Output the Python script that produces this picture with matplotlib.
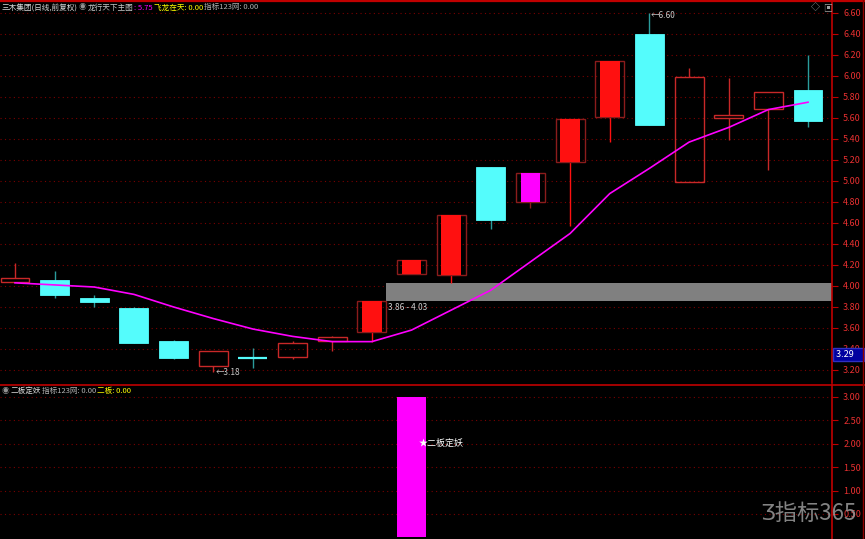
import numpy as np
import matplotlib
matplotlib.use("Agg")
import matplotlib.pyplot as plt
from matplotlib.patches import Rectangle
from matplotlib.transforms import blended_transform_factory

plt.rcParams['font.family'] = ['Noto Sans CJK SC', 'DejaVu Sans']

# ======================= data =======================
opens  = [4.04, 4.06, 3.89, 3.79, 3.48, 3.24, 3.31, 3.32, 3.48, 3.56, 4.11,
          4.10, 5.13, 4.80, 5.18, 5.61, 6.40, 4.99, 5.60, 5.69, 5.87]
closes = [4.08, 3.91, 3.85, 3.46, 3.31, 3.38, 3.31, 3.46, 3.51, 3.86, 4.25,
          4.68, 4.63, 5.08, 5.59, 6.14, 5.53, 5.99, 5.63, 5.85, 5.57]
highs  = [4.22, 4.14, 3.91, 3.80, 3.49, 3.38, 3.41, 3.48, 3.52, 3.86, 4.25,
          4.68, 5.13, 5.08, 5.59, 6.14, 6.60, 6.08, 5.98, 5.85, 6.20]
lows   = [4.04, 3.89, 3.80, 3.46, 3.30, 3.18, 3.22, 3.30, 3.38, 3.47, 4.11,
          4.03, 4.54, 4.74, 4.57, 5.37, 5.53, 4.99, 5.39, 5.10, 5.51]
# body style of each candle
styles = ['hollow', 'down', 'down', 'down', 'down', 'hollow', 'down', 'hollow',
          'hollow', 'solid', 'solid', 'solid', 'down', 'magenta', 'solid',
          'solid', 'down', 'hollow', 'hollow', 'hollow', 'down']
# main indicator line (龙行天下主图)
ma_line = [4.03, 4.01, 3.99, 3.92, 3.80, 3.69, 3.59, 3.52, 3.47, 3.47, 3.58,
           3.77, 3.96, 4.23, 4.50, 4.88, 5.12, 5.37, 5.51, 5.68, 5.75]
# lower panel signal (二板定妖)
erban = [0, 0, 0, 0, 0, 0, 0, 0, 0, 0, 3.0,
         0, 0, 0, 0, 0, 0, 0, 0, 0, 0]
signal_text = "★二板定妖"

gap_from = 9          # candle after which the gap starts
gap_lo, gap_hi = 3.86, 4.03
low_mark = (5, 3.18)   # (candle, value)
high_mark = (16, 6.60)
last_price = 3.29

main_ticks = np.round(np.arange(3.2, 6.61, 0.2), 2)
sub_ticks = np.arange(0.5, 3.01, 0.5)
# ====================================================

W_BODY = 0.73
W_FILL = 0.50
CYAN = "#54fcfc"
TEAL = "#2a9c9c"
RED = "#ff1010"
HOLLOW = "#c82828"
DARKRED = "#8b1c1c"
GRID = "#7a0000"
AXRED = "#c00000"
LABEL = "#e83030"

W, H = 865, 539
fig = plt.figure(figsize=(W / 100, H / 100), dpi=100, facecolor="black")

def px_box(x0, y0, x1, y1):
    return [x0 / W, 1 - y1 / H, (x1 - x0) / W, (y1 - y0) / H]

ax = fig.add_axes(px_box(0, 1, 832, 383), facecolor="black")
ax2 = fig.add_axes(px_box(0, 385, 832, 539), facecolor="black")

n = len(opens)
idx = np.arange(n)
XMIN, XMAX = -0.378, 20.605

# ---------------- candles ----------------
for i in idx:
    o, c, h, l = opens[i], closes[i], highs[i], lows[i]
    top, bot = max(o, c), min(o, c)
    st = styles[i]
    if st == 'down':
        ax.vlines(i, l, h, color=TEAL, lw=1.0, zorder=2)
        if top - bot < 0.01:
            ax.hlines(top, i - W_BODY / 2, i + W_BODY / 2, color=CYAN, lw=1.6, zorder=3)
        else:
            ax.add_patch(Rectangle((i - W_BODY / 2, bot), W_BODY, top - bot,
                                   facecolor=CYAN, edgecolor=CYAN, lw=0.6, zorder=3))
    elif st == 'hollow':
        if h > top:
            ax.vlines(i, top, h, color=HOLLOW, lw=1.0, zorder=2)
        if l < bot:
            ax.vlines(i, l, bot, color=HOLLOW, lw=1.0, zorder=2)
        ax.add_patch(Rectangle((i - W_BODY / 2, bot), W_BODY, max(top - bot, 0.01),
                               facecolor="none", edgecolor=HOLLOW, lw=1.0, zorder=3))
    else:
        fill = "#ff00ff" if st == 'magenta' else RED
        wick = DARKRED if st == 'magenta' else RED
        if h > top:
            ax.vlines(i, top, h, color=wick, lw=1.0, zorder=2)
        if l < bot:
            ax.vlines(i, l, bot, color=wick, lw=1.0, zorder=2)
        ax.add_patch(Rectangle((i - W_BODY / 2, bot), W_BODY, top - bot,
                               facecolor="none", edgecolor=DARKRED, lw=1.0, zorder=3))
        ax.add_patch(Rectangle((i - W_FILL / 2, bot), W_FILL, top - bot,
                               facecolor=fill, edgecolor="none", zorder=3))

# gap band
ax.fill_between([gap_from + W_BODY / 2, XMAX], gap_lo, gap_hi,
                color="#808080", lw=0, zorder=1)
ax.text(gap_from + W_BODY / 2 + 0.03, gap_lo - 0.02, f"{gap_lo:.2f} - {gap_hi:.2f}",
        color="#d0d0d0", fontsize=6, va="top", ha="left", zorder=4)

# indicator line
ax.plot(idx, ma_line, color="#ff00ff", lw=1.2, zorder=5)

# high / low markers
ax.text(low_mark[0] + 0.05, low_mark[1], f"←{low_mark[1]:.2f}",
        color="#c8c8c8", fontsize=6, va="center", ha="left")
ax.text(high_mark[0] + 0.03, high_mark[1] - 0.02, f"←{high_mark[1]:.2f}",
        color="#c8c8c8", fontsize=6, va="center", ha="left")

# axes style
for a in (ax, ax2):
    a.set_xlim(XMIN, XMAX)
    a.set_xticks([])
    for s in ("top", "left", "bottom"):
        a.spines[s].set_visible(False)
    a.spines["right"].set_color(AXRED)
    a.spines["right"].set_linewidth(1.2)
    a.yaxis.tick_right()
    a.tick_params(axis="y", colors=AXRED, labelcolor=LABEL, length=4,
                  width=0.8, pad=4, labelsize=6.5)
    a.grid(axis="y", color=GRID, linestyle=(0, (1, 3)), lw=0.8)
    a.set_axisbelow(True)

ax.set_ylim(3.076, 6.714)
ax.set_yticks(main_ticks)
ax.set_yticklabels([f"{v:.2f}" for v in main_ticks])

# last price box on axis
tr = blended_transform_factory(ax.transAxes, ax.transData)
ax.text(1.003, 3.35, f" {last_price:.2f}    ", transform=tr, color="white", fontsize=6.5,
        va="center", ha="left", zorder=10,
        bbox=dict(boxstyle="square,pad=0.2", facecolor="#0000a0", edgecolor="#3030c0"))

# lower panel
ax2.set_ylim(-0.032, 3.245)
ax2.bar(idx, erban, width=W_BODY, color="#ff00ff", zorder=3)
sig_i = int(np.argmax(erban))
ax2.text(sig_i + 0.19, 2.0, signal_text, color="white", fontsize=6.5,
         va="center", ha="left", zorder=4)
ax2.set_yticks(sub_ticks)
ax2.set_yticklabels([f"{v:.2f}" for v in sub_ticks])

# frame lines
fig.add_artist(plt.Line2D([0, 1], [1 - 0.8 / H, 1 - 0.8 / H], color=AXRED, lw=1.6))
fig.add_artist(plt.Line2D([0, 1], [1 - 384.5 / H, 1 - 384.5 / H], color=AXRED, lw=1.2))
fig.add_artist(plt.Line2D([862.5 / W, 862.5 / W], [0, 1], color="#900000", lw=1.0))

# header texts, laid out left to right
renderer = fig.canvas.get_renderer()

def header(y, parts, size=5.5):
    end = 0
    for x, s, color in parts:
        x = max(x, end + 1)
        t = fig.text(x / W, 1 - y / H, s, color=color, fontsize=size,
                     va="center", ha="left")
        end = t.get_window_extent(renderer).x1

header(7.5, [(2, "三木集团(日线,前复权)", "#d8d8d8"),
             (77, "◉", "#909090"),
             (86, "龙行天下主图", "#c8c8c8"),
             (133, ": 5.75", "#ff00ff"),
             (153, "飞龙在天: 0.00", "#ffff00"),
             (203, "指标123网: 0.00", "#b0b0b0")])
header(7.5, [(811, "◇", "#a0a0a0"), (823, "▣", "#a0a0a0")], size=6.5)
header(391, [(2, "◉", "#909090"),
             (10, "二板定妖", "#e0e0e0"),
             (42, "指标123网: 0.00", "#b0b0b0"),
             (97, "二板: 0.00", "#ffff00")])

# watermark
fig.text(760 / W, 1 - 513 / H, "Ʒ指标365", color="#9a9a9a", fontsize=16,
         va="center", ha="left", alpha=0.85, zorder=20)

fig.savefig("out.png", dpi=100, facecolor="black")
